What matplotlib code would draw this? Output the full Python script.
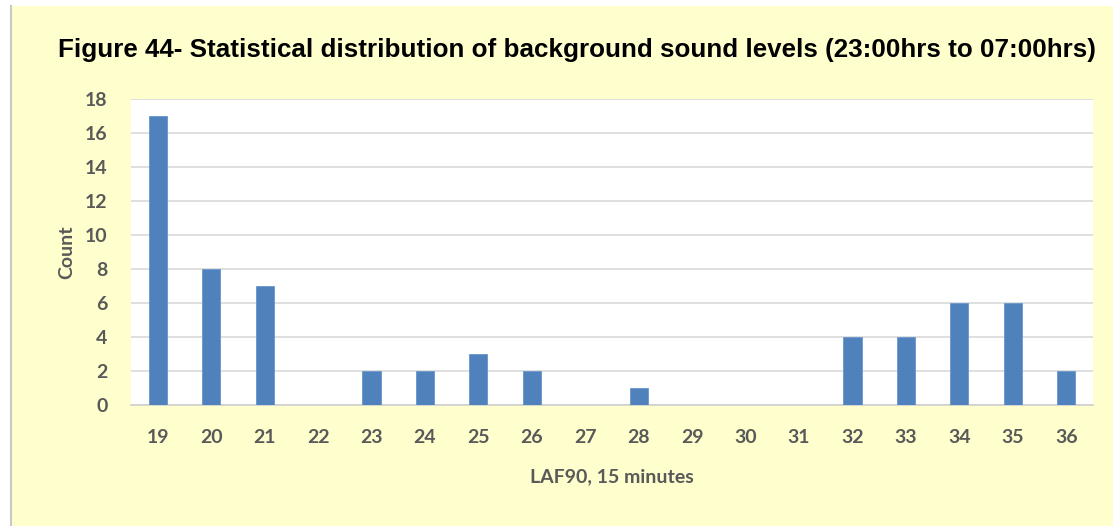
import matplotlib.pyplot as plt
from matplotlib.patches import Rectangle

# LAF90 bins and how many 15-minute periods fall in each
levels = [str(n) for n in range(19, 37)]
counts = [17, 8, 7, 0, 2, 2, 3, 2, 0, 1, 0, 0, 0, 4, 4, 6, 6, 2]
y_ticks = list(range(0, 20, 2))

title = "Figure 44- Statistical distribution of background sound levels (23:00hrs to 07:00hrs)"

W, H = 1113, 526
fig = plt.figure(figsize=(W / 100, H / 100), dpi=100, facecolor="white")

# pale yellow panel with a grey left edge
fig.patches.append(Rectangle((12 / W, 0), 1 - 12 / W, 1 - 6 / H,
                             transform=fig.transFigure, facecolor="#FFFFCD",
                             edgecolor="none", zorder=-10))
fig.add_artist(plt.Line2D([11 / W, 11 / W], [0, 1 - 6 / H], transform=fig.transFigure,
                          color="#C8C8C8", lw=1.5, zorder=-9))

ax = fig.add_axes([131 / W, 1 - 405 / H, (1093 - 131) / W, (405 - 99) / H])
ax.set_facecolor("white")

x = range(len(levels))
ax.bar(x, counts, width=0.34, color="#4F81BD", edgecolor="#6A96CC", lw=0.6, zorder=3)

ax.set_xlim(-0.5, len(levels) - 0.5)
ax.set_ylim(0, 18)
ax.set_yticks(y_ticks)
ax.set_xticks(list(x))
ax.set_xticklabels(levels)

fs = 14
tick_font = dict(family="Lato", weight="bold", size=fs, color="#595959")
for lab in ax.get_xticklabels() + ax.get_yticklabels():
    lab.set_fontfamily("Lato")
    lab.set_fontweight("bold")
    lab.set_fontsize(fs)
    lab.set_color("#595959")

ax.tick_params(axis="both", length=0)
ax.tick_params(axis="x", pad=17)
ax.tick_params(axis="y", pad=17)
ax.yaxis.grid(True, color="#D9D9D9", lw=1.2, zorder=0)
for s in ["top", "right", "left"]:
    ax.spines[s].set_visible(False)
ax.spines["bottom"].set_color("#D0D0D0")
ax.spines["bottom"].set_linewidth(1.2)

ax.set_xlabel("LAF90, 15 minutes", labelpad=16, **tick_font)
ax.set_ylabel("Count", labelpad=7, **tick_font)

fig.text(577 / W, 1 - 50 / H, title, ha="center", va="center",
         family="Liberation Sans", weight="bold", size=18.7, color="black")

fig.savefig("out.png", dpi=100, facecolor=fig.get_facecolor())
